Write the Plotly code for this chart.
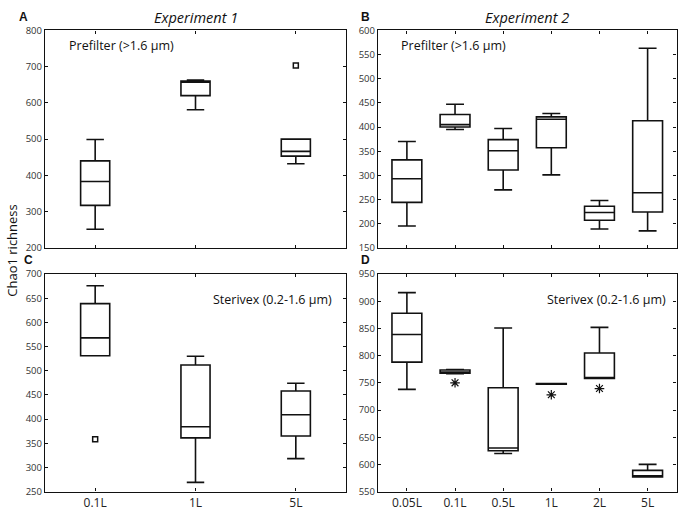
import plotly.graph_objects as go

# ---------------- data ----------------
cats_exp1 = ["0.1L", "1L", "5L"]
cats_exp2 = ["0.05L", "0.1L", "0.5L", "1L", "2L", "5L"]

# Panel A: Experiment 1, Prefilter
a_low = [251, 581, 432]
a_q1 = [317, 620, 453]
a_med = [383, 658, 466]
a_q3 = [440, 660, 500]
a_high = [499, 663, 500]
a_out_x = ["5L"]
a_out_y = [703]

# Panel B: Experiment 2, Prefilter
b_low = [195, 395, 270, 301, 189, 185]
b_q1 = [244, 400, 311, 357, 207, 224]
b_med = [293, 405, 351, 416, 223, 264]
b_q3 = [332, 426, 374, 421, 236, 413]
b_high = [370, 447, 397, 428, 248, 563]

# Panel C: Experiment 1, Sterivex
c_low = [531, 269, 318]
c_q1 = [531, 361, 365]
c_med = [568, 384, 409]
c_q3 = [639, 512, 458]
c_high = [676, 530, 474]
c_out_x = ["0.1L"]
c_out_y = [358]

# Panel D: Experiment 2, Sterivex
d_low = [738, 767, 620, 747.5, 758, 577]
d_q1 = [788, 767.5, 625, 747.5, 758, 577]
d_med = [839, 770, 630, 748, 759, 578]
d_q3 = [878, 773.5, 741, 748.5, 805, 589]
d_high = [916, 774.5, 851, 748.5, 852, 600]
d_out_x = ["0.1L", "1L", "2L"]
d_out_y = [750, 728, 739.5]

FONT = "Open Sans"

fig = go.Figure()


def add_box(xaxis, yaxis, cats, low, q1, med, q3, high, width):
    fig.add_trace(go.Box(
        x=cats, q1=q1, median=med, q3=q3, lowerfence=low, upperfence=high,
        xaxis=xaxis, yaxis=yaxis, width=width, whiskerwidth=0.6,
        fillcolor="white", line=dict(color="#111111", width=1.6),
        boxpoints=False, showlegend=False, hoverinfo="skip"))


add_box("x", "y", cats_exp1, a_low, a_q1, a_med, a_q3, a_high, 0.29)
add_box("x2", "y2", cats_exp2, b_low, b_q1, b_med, b_q3, b_high, 0.62)
add_box("x3", "y3", cats_exp1, c_low, c_q1, c_med, c_q3, c_high, 0.29)
add_box("x4", "y4", cats_exp2, d_low, d_q1, d_med, d_q3, d_high, 0.62)

sq = dict(symbol="square-open", size=5, color="#111111", line=dict(width=1.5, color="#111111"))
ast = dict(symbol="asterisk-open", size=8, color="#111111", line=dict(width=1.2, color="#111111"))
fig.add_trace(go.Scatter(x=a_out_x, y=a_out_y, mode="markers", marker=sq,
                         xaxis="x", yaxis="y", showlegend=False, hoverinfo="skip"))
fig.add_trace(go.Scatter(x=c_out_x, y=c_out_y, mode="markers", marker=sq,
                         xaxis="x3", yaxis="y3", showlegend=False, hoverinfo="skip"))
fig.add_trace(go.Scatter(x=d_out_x, y=d_out_y, mode="markers", marker=ast,
                         xaxis="x4", yaxis="y4", showlegend=False, hoverinfo="skip"))

W, H = 680, 518
xdomA = [45 / W, 346 / W]
xdomB = [378 / W, 676.5 / W]
ydomTop = [1 - 247 / H, 1 - 24 / H]
ydomBot = [1 - 497 / H, 1 - 274 / H]

axis_common = dict(showline=True, linecolor="#111111", linewidth=1.3, mirror="ticks",
                   ticks="inside", ticklen=3, tickwidth=1, tickcolor="#111111",
                   showgrid=False, zeroline=False,
                   tickfont=dict(family=FONT, size=9.5, color="#333333"))

fig.update_layout(
    width=W, height=H, margin=dict(l=0, r=0, t=0, b=0),
    paper_bgcolor="white", plot_bgcolor="white",
    font=dict(family=FONT, color="#111111"),
    boxmode="overlay",
    xaxis=dict(axis_common, domain=xdomA, anchor="y", type="category",
               categoryorder="array", categoryarray=cats_exp1, range=[-0.5, 2.5],
               showticklabels=False),
    yaxis=dict(axis_common, domain=ydomTop, anchor="x", range=[200, 800], dtick=100),
    xaxis2=dict(axis_common, domain=xdomB, anchor="y2", type="category",
                categoryorder="array", categoryarray=cats_exp2, range=[-0.6, 5.6],
                showticklabels=False),
    yaxis2=dict(axis_common, domain=ydomTop, anchor="x2", range=[150, 600], dtick=50),
    xaxis3=dict(axis_common, domain=xdomA, anchor="y3", type="category",
                categoryorder="array", categoryarray=cats_exp1, range=[-0.5, 2.5],
                tickfont=dict(family=FONT, size=12, color="#222222")),
    yaxis3=dict(axis_common, domain=ydomBot, anchor="x3", range=[250, 700], dtick=50),
    xaxis4=dict(axis_common, domain=xdomB, anchor="y4", type="category",
                categoryorder="array", categoryarray=cats_exp2, range=[-0.6, 5.6],
                tickfont=dict(family=FONT, size=12, color="#222222")),
    yaxis4=dict(axis_common, domain=ydomBot, anchor="x4", range=[550, 950], dtick=50),
)

ann = []
# panel letters
for txt, x, y in [("A", 17, 10), ("B", 359, 10), ("C", 22, 260), ("D", 359, 260)]:
    ann.append(dict(text="<b>%s</b>" % txt, x=x / W, y=1 - y / H, xref="paper", yref="paper",
                    xanchor="left", yanchor="middle", showarrow=False,
                    font=dict(family="Liberation Sans", size=12, color="#111111")))
# experiment titles
for txt, x in [("Experiment 1", 196), ("Experiment 2", 527)]:
    ann.append(dict(text="<i>%s</i>" % txt, x=x / W, y=1 - 11 / H, xref="paper", yref="paper",
                    xanchor="center", yanchor="middle", showarrow=False,
                    font=dict(family=FONT, size=14.5, color="#111111")))
# filter labels
for x in [67, 399]:
    ann.append(dict(text="Prefilter (>1.6 µm)", x=x / W, y=1 - 39 / H, xref="paper", yref="paper",
                    xanchor="left", yanchor="middle", showarrow=False,
                    font=dict(family=FONT, size=12.5, color="#111111")))
for x in [334, 668]:
    ann.append(dict(text="Sterivex (0.2-1.6 µm)", x=x / W, y=1 - 300 / H, xref="paper", yref="paper",
                    xanchor="right", yanchor="middle", showarrow=False,
                    font=dict(family=FONT, size=12.5, color="#111111")))
# y axis title
ann.append(dict(text="Chao1 richness", x=12 / W, y=1 - 250 / H, xref="paper", yref="paper",
                xanchor="center", yanchor="middle", showarrow=False, textangle=-90,
                font=dict(family=FONT, size=13, color="#111111")))
fig.update_layout(annotations=ann)

fig.write_html("out.html", config={"displayModeBar": False},
               post_script="document.body.style.margin='0';")
